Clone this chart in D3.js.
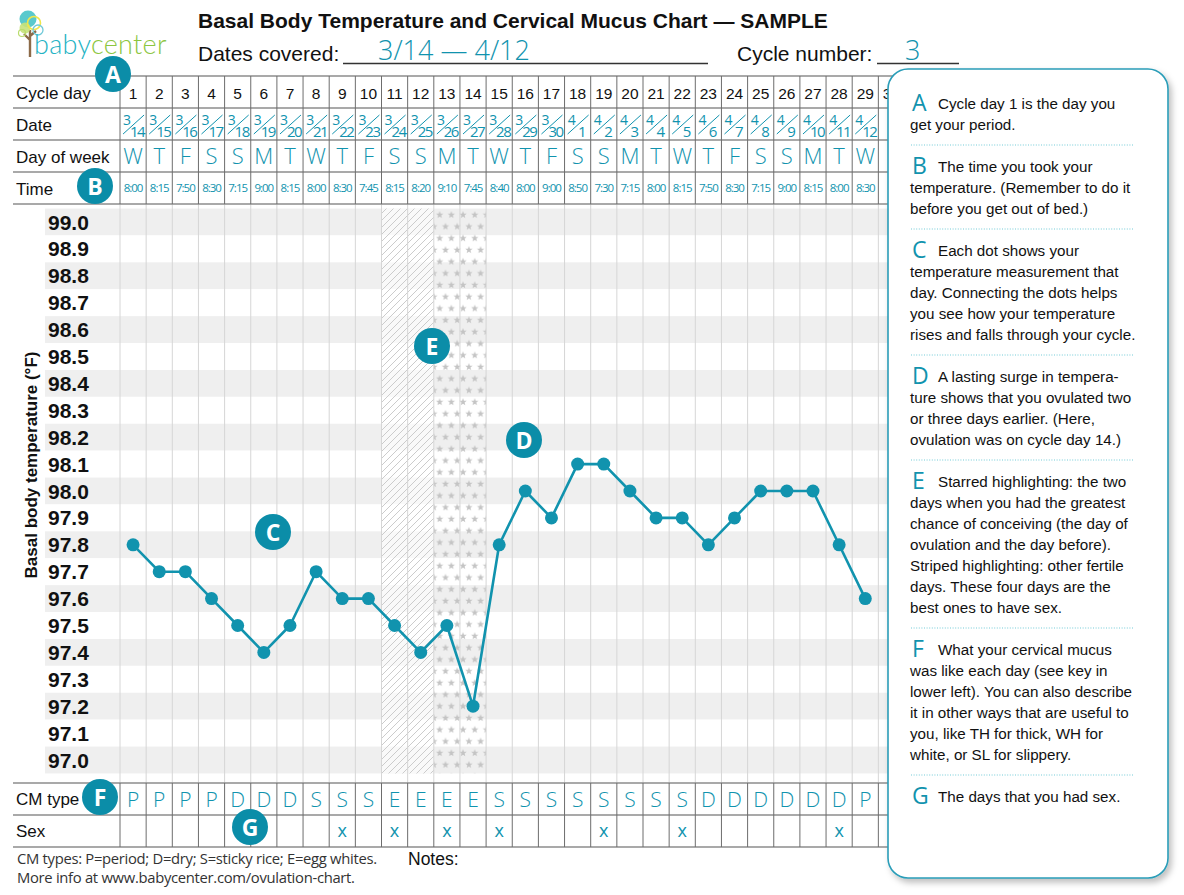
<!DOCTYPE html>
<html>
<head>
<meta charset="utf-8">
<script src="https://cdn.jsdelivr.net/npm/d3@7"></script>
<style>
  body { margin: 0; background: #fff; }
  svg { display: block; }
  .hand { font-family: "Open Sans", sans-serif; fill: #1193ae; }
  .lbl { font-family: "Liberation Sans", Arial, sans-serif; fill: #111; }
</style>
</head>
<body>
<div id="chart"></div>
<script>
// chart data
const cycleDays = d3.range(1, 30);
const dates = ["3/14","3/15","3/16","3/17","3/18","3/19","3/20","3/21","3/22","3/23","3/24","3/25","3/26","3/27","3/28",
  "3/29","3/30","4/1","4/2","4/3","4/4","4/5","4/6","4/7","4/8","4/9","4/10","4/11","4/12"];
const weekdays = ["W","T","F","S","S","M","T","W","T","F","S","S","M","T","W","T","F","S","S","M","T","W","T","F","S","S","M","T","W"];
const times = ["8:00","8:15","7:50","8:30","7:15","9:00","8:15","8:00","8:30","7:45","8:15","8:20","9:10","7:45","8:40",
  "8:00","9:00","8:50","7:30","7:15","8:00","8:15","7:50","8:30","7:15","9:00","8:15","8:00","8:30"];
const temps = [97.8,97.7,97.7,97.6,97.5,97.4,97.5,97.7,97.6,97.6,97.5,97.4,97.5,97.2,97.8,
  98.0,97.9,98.1,98.1,98.0,97.9,97.9,97.8,97.9,98.0,98.0,98.0,97.8,97.6];
const cmTypes = ["P","P","P","P","D","D","D","S","S","S","E","E","E","E","S","S","S","S","S","S","S","S","D","D","D","D","D","D","P"];
const sexDays = [9, 11, 13, 15, 19, 22, 28];
const stripedDays = [11, 12];
const starredDays = [13, 14];
const tempTicks = d3.range(0, 21).map(i => +(99.0 - i * 0.1).toFixed(1));

const notes = [
  {key: "A", lines: ["Cycle day 1 is the day you", "get your period."]},
  {key: "B", lines: ["The time you took your", "temperature. (Remember to do it", "before you get out of bed.)"]},
  {key: "C", lines: ["Each dot shows your", "temperature measurement that", "day. Connecting the dots helps", "you see how your temperature", "rises and falls through your cycle."]},
  {key: "D", lines: ["A lasting surge in tempera-", "ture shows that you ovulated two", "or three days earlier. (Here,", "ovulation was on cycle day 14.)"]},
  {key: "E", lines: ["Starred highlighting: the two", "days when you had the greatest", "chance of conceiving (the day of", "ovulation and the day before).", "Striped highlighting: other fertile", "days. These four days are the", "best ones to have sex."]},
  {key: "F", lines: ["What your cervical mucus", "was like each day (see key in", "lower left). You can also describe", "it in other ways that are useful to", "you, like TH for thick, WH for", "white, or SL for slippery."]},
  {key: "G", lines: ["The days that you had sex."]}
];

const teal = "#1193ae";
const width = 1184, height = 895;

const svg = d3.select("#chart").append("svg")
  .attr("width", width).attr("height", height);

const defs = svg.append("defs");

// scales
const x = d3.scaleBand().domain(d3.range(1, 31)).range([120, 120 + 30 * 26.15]);
const y = d3.scaleLinear().domain([97.0, 99.0]).range([760, 222]);
const rowH = y(97.0) - y(97.1);

// patterns
const stripe = defs.append("pattern").attr("id", "stripe")
  .attr("patternUnits", "userSpaceOnUse").attr("width", 7).attr("height", 7);
stripe.append("path").attr("d", "M-1,8 L8,-1 M-4,4 L4,-4 M3,11 L11,3")
  .attr("stroke", "#cccccc").attr("stroke-width", 1);

const starPts = d3.range(10).map(i => {
  const r = i % 2 ? 1.6 : 3.9, a = i * Math.PI / 5 - Math.PI / 2;
  return [r * Math.cos(a), r * Math.sin(a)];
});
const starD = "M" + starPts.join("L") + "Z";
const star = defs.append("pattern").attr("id", "star")
  .attr("patternUnits", "userSpaceOnUse").attr("width", 11.7).attr("height", 23.4)
  .attr("x", x(13)).attr("y", 209);
[[5.85, 5.85], [0, 17.55], [11.7, 17.55]].forEach(p => {
  star.append("path").attr("d", starD).attr("transform", `translate(${p[0]},${p[1]})`)
    .attr("fill", "#c4c4c4");
});

const shadow = defs.append("filter").attr("id", "shadow")
  .attr("x", "-10%").attr("y", "-10%").attr("width", "130%").attr("height", "130%");
shadow.append("feDropShadow").attr("dx", 3).attr("dy", 4).attr("stdDeviation", 3)
  .attr("flood-color", "#000").attr("flood-opacity", 0.25);

// logo
const logo = svg.append("g");
logo.append("path").attr("d", "M30,57 L30,30 M30,40 L24,34 M30,36 L36,31")
  .attr("stroke", "#8c6a48").attr("stroke-width", 2.4).attr("fill", "none");
logo.append("circle").attr("cx", 28).attr("cy", 19).attr("r", 8.5).attr("fill", "#3dbfc4").attr("opacity", 0.85);
logo.append("circle").attr("cx", 25).attr("cy", 28).attr("r", 5.5).attr("fill", "#c7e27a").attr("opacity", 0.9);
logo.append("circle").attr("cx", 34).attr("cy", 23).attr("r", 6.5).attr("fill", "none").attr("stroke", "#f0e64a").attr("stroke-width", 1.6);
logo.append("circle").attr("cx", 38).attr("cy", 30).attr("r", 5).attr("fill", "none").attr("stroke", "#6fc9d8").attr("stroke-width", 1.3);
logo.append("circle").attr("cx", 22).attr("cy", 33).attr("r", 3.5).attr("fill", "none").attr("stroke", "#b9dc6c").attr("stroke-width", 1.2);
const logoText = logo.append("text").attr("x", 34).attr("y", 54)
  .style("font-family", "Lato, 'Open Sans', sans-serif").style("font-weight", 300).style("font-size", "27px")
  .style("letter-spacing", "0.3px");
logoText.append("tspan").attr("fill", "#25b3c4").text("baby");
logoText.append("tspan").attr("fill", "#8cc63f").text("center");

// header
svg.append("text").attr("class", "lbl").attr("x", 198).attr("y", 28)
  .style("font-size", "21px").style("font-weight", "bold")
  .text("Basal Body Temperature and Cervical Mucus Chart \u2014 SAMPLE");
svg.append("text").attr("class", "lbl").attr("x", 198).attr("y", 61).style("font-size", "21px").text("Dates covered:");
svg.append("line").attr("x1", 343).attr("x2", 708).attr("y1", 63.5).attr("y2", 63.5).attr("stroke", "#333").attr("stroke-width", 1.5);
svg.append("text").attr("class", "hand").attr("x", 378).attr("y", 60).style("font-size", "27px").style("font-weight", 300)
  .text("3/14 \u2014 4/12");
svg.append("text").attr("class", "lbl").attr("x", 737).attr("y", 61).style("font-size", "21px").text("Cycle number:");
svg.append("line").attr("x1", 877).attr("x2", 959).attr("y1", 63.5).attr("y2", 63.5).attr("stroke", "#333").attr("stroke-width", 1.5);
svg.append("text").attr("class", "hand").attr("x", 905).attr("y", 60).style("font-size", "27px").style("font-weight", 300).text("3");

// temperature bands
const tableRight = x.range()[1];
svg.append("g").selectAll("rect").data(tempTicks).join("rect")
  .attr("x", 45).attr("width", tableRight - 45)
  .attr("y", d => y(d) - rowH / 2).attr("height", rowH)
  .attr("fill", (d, i) => i % 2 ? "#fff" : "#efefef");

// fertile highlighting
svg.append("rect").attr("x", x(stripedDays[0])).attr("width", x.bandwidth() * stripedDays.length)
  .attr("y", y(99.0) - rowH / 2).attr("height", rowH * 21).attr("fill", "#fff").attr("opacity", 0.6);
svg.append("rect").attr("x", x(stripedDays[0])).attr("width", x.bandwidth() * stripedDays.length)
  .attr("y", y(99.0) - rowH / 2).attr("height", rowH * 21).attr("fill", "url(#stripe)");
svg.append("rect").attr("x", x(starredDays[0])).attr("width", x.bandwidth() * starredDays.length)
  .attr("y", y(99.0) - rowH / 2).attr("height", rowH * 21).attr("fill", "url(#star)");

// plot grid lines
svg.append("g").selectAll("line").data(x.domain().concat([31])).join("line")
  .attr("x1", d => d === 31 ? tableRight : x(d)).attr("x2", d => d === 31 ? tableRight : x(d))
  .attr("y1", 204).attr("y2", 783)
  .attr("stroke", "#d6d6d6").attr("stroke-width", 1);

// y labels
svg.append("g").selectAll("text").data(tempTicks).join("text")
  .attr("class", "lbl").attr("x", 48).attr("y", d => y(d) + 7.5)
  .style("font-size", "21px").style("font-weight", "bold")
  .text(d => d.toFixed(1));
svg.append("text").attr("class", "lbl")
  .attr("transform", "translate(37,465) rotate(-90)").attr("text-anchor", "middle")
  .style("font-size", "17px").style("font-weight", "bold")
  .text("Basal body temperature (\u00b0F)");

// table top
const rows = [76, 108, 140, 172, 204];
const bottomRows = [783, 815, 847];
const tbl = svg.append("g");
rows.concat(bottomRows).forEach(r => {
  tbl.append("line").attr("x1", 13).attr("x2", tableRight).attr("y1", r).attr("y2", r)
    .attr("stroke", "#8d8d8d").attr("stroke-width", 1.6);
});
[[rows[0], rows[4]], [bottomRows[0], bottomRows[2]]].forEach(([a, b]) => {
  tbl.append("g").selectAll("line").data(x.domain()).join("line")
    .attr("x1", d => x(d)).attr("x2", d => x(d)).attr("y1", a).attr("y2", b)
    .attr("stroke", "#6d6d6d").attr("stroke-width", 1);
});
[["Cycle day", 0], ["Date", 1], ["Day of week", 2], ["Time", 3]].forEach(([t, i]) => {
  tbl.append("text").attr("class", "lbl").attr("x", 16).attr("y", rows[i] + 23)
    .style("font-size", "17px").text(t);
});
[["CM type", 0], ["Sex", 1]].forEach(([t, i]) => {
  tbl.append("text").attr("class", "lbl").attr("x", 16).attr("y", bottomRows[i] + 22)
    .style("font-size", "17px").text(t);
});

const cx = d => x(d) + x.bandwidth() / 2;

tbl.append("g").selectAll("text").data(x.domain()).join("text")
  .attr("class", "lbl").attr("x", cx).attr("y", rows[0] + 23).attr("text-anchor", "middle")
  .style("font-size", "15.5px").text(d => d);

const dateG = tbl.append("g").selectAll("g").data(dates).join("g")
  .attr("transform", (d, i) => `translate(${cx(cycleDays[i])},${rows[1]})`);
dateG.append("path").attr("d", "M-10,26 L11,7").attr("stroke", teal).attr("stroke-width", 1).attr("fill", "none");
dateG.append("text").attr("class", "hand").attr("x", -6).attr("y", 17).attr("text-anchor", "middle")
  .style("font-size", "14px").text(d => d.split("/")[0]);
dateG.append("text").attr("class", "hand").attr("x", 4).attr("y", 29).attr("text-anchor", "middle")
  .style("font-size", "15px").style("letter-spacing", "-1.5px").text(d => d.split("/")[1]);

tbl.append("g").selectAll("text").data(weekdays).join("text")
  .attr("class", "hand").attr("x", (d, i) => cx(cycleDays[i])).attr("y", rows[2] + 24)
  .attr("text-anchor", "middle").style("font-size", "22px").style("font-weight", 300)
  .text(d => d);

tbl.append("g").selectAll("text").data(times).join("text")
  .attr("class", "hand").attr("x", (d, i) => cx(cycleDays[i])).attr("y", rows[3] + 20)
  .attr("text-anchor", "middle").style("font-size", "11.5px").style("letter-spacing", "-1px")
  .text(d => d);

tbl.append("g").selectAll("text").data(cmTypes).join("text")
  .attr("class", "hand").attr("x", (d, i) => cx(cycleDays[i])).attr("y", bottomRows[0] + 24)
  .attr("text-anchor", "middle").style("font-size", "21px").style("font-weight", 300)
  .text(d => d);

tbl.append("g").selectAll("text").data(sexDays).join("text")
  .attr("class", "hand").attr("x", cx).attr("y", bottomRows[1] + 22)
  .attr("text-anchor", "middle").style("font-size", "18px")
  .text("x");

// temperature line
const line = d3.line().x((d, i) => cx(cycleDays[i])).y(d => y(d));
svg.append("path").datum(temps).attr("d", line)
  .attr("fill", "none").attr("stroke", teal).attr("stroke-width", 2.6).attr("stroke-linejoin", "round");
svg.append("g").selectAll("circle").data(temps).join("circle")
  .attr("cx", (d, i) => cx(cycleDays[i])).attr("cy", d => y(d)).attr("r", 6.5).attr("fill", teal);

// footer
svg.append("text").attr("x", 17).attr("y", 864).style("font-family", "'Open Sans', sans-serif")
  .style("font-size", "14.8px").attr("fill", "#333").style("letter-spacing", "-0.3px")
  .text("CM types:  P=period;  D=dry;  S=sticky rice;  E=egg whites.");
svg.append("text").attr("x", 17).attr("y", 883).style("font-family", "'Open Sans', sans-serif")
  .style("font-size", "14.8px").attr("fill", "#333").style("letter-spacing", "-0.3px")
  .text("More info at www.babycenter.com/ovulation-chart.");
svg.append("text").attr("class", "lbl").attr("x", 408).attr("y", 865).style("font-size", "17.5px").text("Notes:");

// side panel
svg.append("rect").attr("x", 888).attr("y", 69).attr("width", 280).attr("height", 809).attr("rx", 20)
  .attr("fill", "#fff").attr("stroke", "#2a9db8").attr("stroke-width", 1.6).attr("filter", "url(#shadow)");

let by = 109;
notes.forEach((n, k) => {
  const g = svg.append("g");
  g.append("text").attr("x", 912).attr("y", by + 2).attr("fill", teal)
    .style("font-family", "'Open Sans', sans-serif").style("font-size", "23px").text(n.key);
  n.lines.forEach((l, j) => {
    g.append("text").attr("class", "lbl").attr("x", j === 0 ? 938 : 910).attr("y", by + j * 21)
      .style("font-size", "15.2px").text(l);
  });
  const last = by + (n.lines.length - 1) * 21;
  if (k < notes.length - 1) {
    svg.append("line").attr("x1", 911).attr("x2", 1133).attr("y1", last + 15).attr("y2", last + 15)
      .attr("stroke", "#74cbd8").attr("stroke-width", 1.2).attr("stroke-dasharray", "1,1.6");
  }
  by = last + 42;
});

// callout markers
const markers = [["A", 113, 74], ["B", 95, 186], ["C", 273, 532], ["D", 524, 440],
  ["E", 432, 346], ["F", 100, 797], ["G", 250, 827]];
const mk = svg.append("g").selectAll("g").data(markers).join("g")
  .attr("transform", d => `translate(${d[1]},${d[2]})`);
mk.append("circle").attr("r", 18).attr("fill", "#0b8da8");
mk.append("text").attr("text-anchor", "middle").attr("y", 8.5).attr("fill", "#fff")
  .style("font-family", "'Open Sans', sans-serif").style("font-weight", "bold").style("font-size", "23px")
  .text(d => d[0]);
</script>
</body>
</html>
